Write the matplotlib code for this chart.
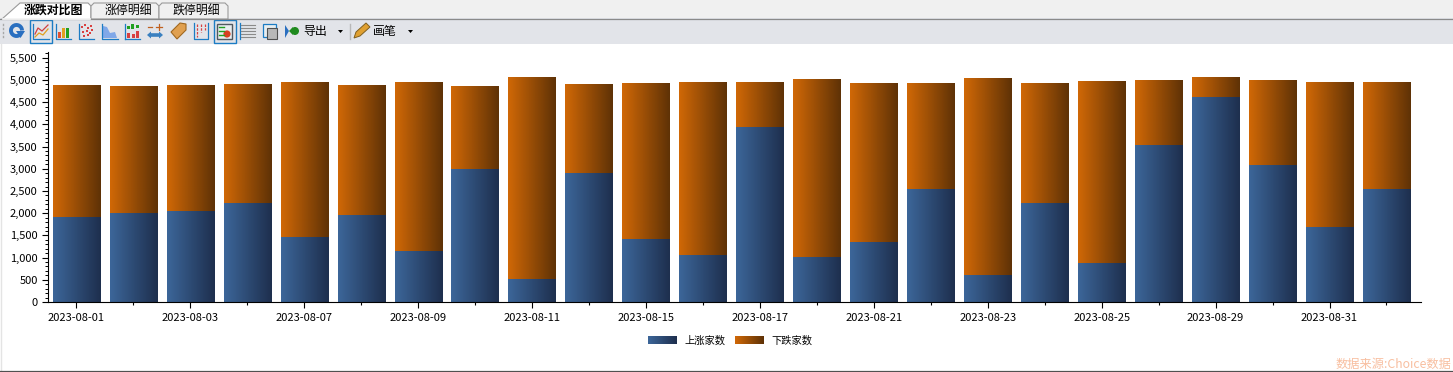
import numpy as np
import matplotlib
matplotlib.use("Agg")
import matplotlib.pyplot as plt
from matplotlib.colors import LinearSegmentedColormap
from matplotlib.patches import Rectangle, Polygon, Circle, Arc
from matplotlib.ticker import MultipleLocator, FuncFormatter

plt.rcParams['font.family'] = ['Noto Sans CJK SC', 'DejaVu Sans']

dates = ["2023-08-01","2023-08-02","2023-08-03","2023-08-04","2023-08-07","2023-08-08",
         "2023-08-09","2023-08-10","2023-08-11","2023-08-14","2023-08-15","2023-08-16",
         "2023-08-17","2023-08-18","2023-08-21","2023-08-22","2023-08-23","2023-08-24",
         "2023-08-25","2023-08-28","2023-08-29","2023-08-30","2023-08-31","2023-09-01"]
up = [1910,2010,2040,2240,1460,1960,1150,3000,520,2900,1430,1060,
      3930,1020,1340,2540,600,2240,880,3530,4620,3090,1680,2540]
down = [2980,2850,2840,2670,3500,2930,3810,1860,4550,2010,3510,3900,
        1030,4010,3600,2390,4450,2690,4100,1470,450,1910,3280,2420]
series_names = ["上涨家数", "下跌家数"]
tabs = ["涨跌对比图", "涨停明细", "跌停明细"]
source = "数据来源:Choice数据"

W, H = 1453, 372
fig = plt.figure(figsize=(W/100, H/100), dpi=100, facecolor="white")

# window chrome (pixel coordinates)
bg = fig.add_axes([0, 0, 1, 1], zorder=0)
bg.set_xlim(0, W); bg.set_ylim(H, 0); bg.axis("off")
bg.add_patch(Rectangle((0, 0), W, 18, fc="#f0f0f0", ec="none"))
bg.add_patch(Rectangle((0, 18), W, 26, fc="#e2e4e9", ec="none"))
bg.plot([0, W], [18.5, 18.5], color="#8a8a8a", lw=0.9)
bg.plot([0.5, 0.5], [44, 371], color="#e4e4e4", lw=1)
bg.plot([0, W], [371.3, 371.3], color="#505050", lw=0.9)

# tabs
bg.add_patch(Polygon([(2,19),(20,3),(88,3),(91,6),(91,19)], fc="white", ec="#9a9a9a", lw=0.8))
bg.add_patch(Polygon([(91,19),(91,6),(94,3),(156,3),(159,6),(159,19)], fc="#f0f0f0", ec="#9a9a9a", lw=0.8))
bg.add_patch(Polygon([(159,19),(159,6),(162,3),(225,3),(228,6),(228,19)], fc="#f0f0f0", ec="#9a9a9a", lw=0.8))
bg.plot([3, 90], [18.5, 18.5], color="white", lw=1.2)
for t, cx, w in zip(tabs, [53, 128, 196], ["bold", "normal", "normal"]):
    bg.text(cx, 10.5, t, ha="center", va="center", fontsize=8.6, color="black", fontweight=w)

# toolbar: selected frames, icons
for x0 in (29.5, 213.5):
    bg.add_patch(Rectangle((x0, 19.5), 22, 23, fc="#e2e4e9", ec="#1c7cc4", lw=1))
for y in (24, 28, 32, 36):
    bg.plot([3, 3], [y, y+1], color="#a8a8a8", lw=1)
# refresh icon
bg.add_patch(Arc((16.5, 30.5), 11, 11, theta1=50, theta2=360, ec="#2a6fc0", lw=2.8))
bg.add_patch(Polygon([(16,31),(25,31),(20.5,38)], fc="#2a6fc0", ec="none"))
# line icon
bg.plot([33,33,49], [24,38.5,38.5], color="#1c7cc4", lw=0.9)
bg.plot([35,38,42,48], [34,28,31,25], color="#d04040", lw=0.9)
bg.plot([35,39,43,48], [37,33,35,29], color="#e0a020", lw=0.9)
# bar icon
bg.plot([56,56,71], [24,38.5,38.5], color="#1c7cc4", lw=0.9)
for x, h, c in [(58,6,"#e05030"),(62,10,"#e0a020"),(66,10,"#20a020")]:
    bg.add_patch(Rectangle((x, 38-h), 3, h, fc=c, ec="none"))
# scatter icon
bg.plot([79,79,94], [24,38.5,38.5], color="#1c7cc4", lw=0.9)
bg.scatter([82,85,88,91,83,87,90,84,88,92], [27,25,28,26,32,31,33,36,35,30], s=3, c="#d84040", marker="s", linewidths=0)
# area icon
bg.plot([102,102,118], [24,38.5,38.5], color="#1c7cc4", lw=0.9)
bg.add_patch(Polygon([(103,38),(103,26),(107,27),(110,33),(115,32),(117,38)], fc="#80a8e8", ec="none"))
# up/down bar icon
bg.plot([125,125], [24,38.5], color="#1c7cc4", lw=0.9)
bg.plot([125,140], [38.5,38.5], color="#1c7cc4", lw=0.9)
for x, y0, h, c in [(127,26,3,"#20a020"),(131,24,5,"#20a020"),(136,25,3,"#20a020"),(127,33,5,"#d84040"),(132,34,4,"#d84040"),(136,31,7,"#d84040")]:
    bg.add_patch(Rectangle((x, y0), 3, h, fc=c, ec="none"))
# arrows icon
bg.plot([150,160], [35,35], color="#3a80c0", lw=2.6, solid_capstyle="butt")
bg.add_patch(Polygon([(147,35),(151,31.5),(151,38.5)], fc="#3a80c0", ec="none"))
bg.add_patch(Polygon([(163,35),(159,31.5),(159,38.5)], fc="#3a80c0", ec="none"))
bg.plot([148,152], [27,27], color="#c06020", lw=0.9)
bg.plot([156,162], [27,27], color="#c06020", lw=0.9)
bg.plot([159,159], [24,30], color="#c06020", lw=0.9)
# tag icon
bg.add_patch(Polygon([(171,32),(180,23),(186,24),(186,30),(177,39)], fc="#e0a050", ec="#a06820", lw=0.8))
# gauge icon
bg.plot([194,194,208,208], [23,38.5,38.5,23], color="#1c7cc4", lw=0.9)
for x, y0, y1 in [(197,24,37),(201,24,32),(205,24,30)]:
    bg.plot([x, x], [y0, y1], color="#d84040", lw=0.9, ls=(0,(2,1)))
# legend-like icon
bg.add_patch(Rectangle((217, 24), 15, 15, fc="#e8eef0", ec="#505860", lw=1))
bg.add_patch(Circle((227, 34), 3.6, fc="#d84020", ec="none"))
for y in (27, 31, 35):
    bg.plot([219, 224], [y, y], color="#20a020", lw=1)
# lines icon
bg.plot([240,240], [23,39], color="#1c7cc4", lw=0.9)
for y in (25, 28, 31, 34, 37):
    bg.plot([241, 255], [y, y], color="#8a8a8a", lw=0.8)
# data icon
bg.add_patch(Rectangle((263, 24), 13, 13, fc="#e8eef0", ec="#1c7cc4", lw=0.9))
bg.add_patch(Rectangle((267, 28), 10, 11, fc="#b8b8b8", ec="#505050", lw=0.8))
# export
bg.add_patch(Polygon([(285,25),(289,31),(285,38)], fc="#2a6fc0", ec="none"))
bg.add_patch(Circle((295, 31), 4, fc="#1f8a1f", ec="none"))
bg.add_patch(Polygon([(289,31),(293,27),(293,35)], fc="#1f8a1f", ec="none"))
bg.text(315, 31, "导出", ha="center", va="center", fontsize=8.6, color="black")
bg.add_patch(Polygon([(338,30),(343,30),(340.5,33)], fc="black", ec="none"))
bg.plot([349.5, 349.5], [24, 39], color="#b8b8b8", lw=1)
# pencil
bg.add_patch(Polygon([(354,38),(356,32),(366,23),(370,27),(360,36)], fc="#e0a030", ec="#806020", lw=0.7))
bg.text(385, 31, "画笔", ha="center", va="center", fontsize=8.6, color="black")
bg.add_patch(Polygon([(408,30),(413,30),(410.5,33)], fc="black", ec="none"))

# chart
ax = fig.add_axes([47.5/W, 1-302/H, (1421-47.5)/W, (302-52)/H], zorder=1)
ax.patch.set_alpha(0)
x = np.arange(len(dates))
blue_cmap = LinearSegmentedColormap.from_list("b", ["#3c6699", "#1e2f4e"])
orange_cmap = LinearSegmentedColormap.from_list("o", ["#d06806", "#5f3206"])
grad = np.linspace(0, 1, 64).reshape(1, -1)
w = 0.83

def gradient_bars(xs, heights, bottoms, cmap):
    bars = ax.bar(xs, heights, w, bottom=bottoms, color="none", edgecolor="none")
    for b in bars:
        im = ax.imshow(grad, extent=(b.get_x(), b.get_x()+b.get_width(), b.get_y(), b.get_y()+b.get_height()),
                       cmap=cmap, aspect="auto", zorder=2, interpolation="bilinear")
        im.set_clip_path(b)

gradient_bars(x, up, 0, blue_cmap)
gradient_bars(x, down, up, orange_cmap)

# axes span: first bar centre at 76.4 px, spacing 56.96 px
ax.set_xlim(-(76.4-47.5)/56.96, (1421-76.4)/56.96)
ax.set_ylim(0, 5630)
for s in ("top", "right"):
    ax.spines[s].set_visible(False)
ax.spines["left"].set_color("black")
ax.spines["bottom"].set_color("black")
ax.yaxis.set_major_locator(MultipleLocator(500))
ax.yaxis.set_minor_locator(MultipleLocator(100))
ax.yaxis.set_major_formatter(FuncFormatter(lambda v, _: f"{int(v):,}"))
ax.tick_params(axis="y", which="major", length=4, width=0.8, labelsize=8, pad=3, colors="black")
ax.tick_params(axis="y", which="minor", length=2, width=0.7)
ax.set_xticks(x)
ax.set_xticklabels([d if i % 2 == 0 else "" for i, d in enumerate(dates)], fontsize=8)
ax.tick_params(axis="x", length=4, width=0.8, pad=4)
for i, t in enumerate(ax.xaxis.get_major_ticks()):
    if i % 2:
        t.tick1line.set_markersize(2)

# legend
for x0, cm, name, tx in [(648, blue_cmap, series_names[0], 684), (735, orange_cmap, series_names[1], 771)]:
    bg.imshow(grad, extent=(x0, x0+29, 344, 336.5), cmap=cm, aspect="auto", zorder=2)
    bg.text(tx, 340.5, name, ha="left", va="center", fontsize=7.4, color="black")
bg.set_xlim(0, W); bg.set_ylim(H, 0)

bg.text(1451, 364, source, ha="right", va="center", fontsize=8.8, color="#f8bfa0")

fig.savefig("out.png", dpi=100, facecolor="white")
